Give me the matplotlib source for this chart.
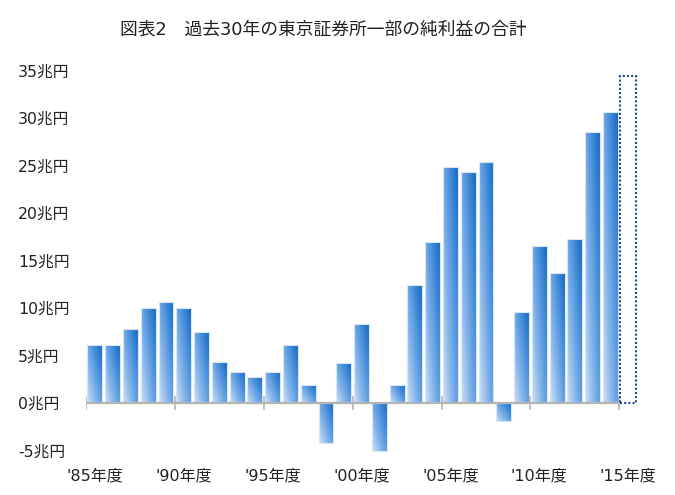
import numpy as np
import matplotlib
matplotlib.use("Agg")
import matplotlib.pyplot as plt
from matplotlib.patches import Rectangle
from matplotlib.colors import LinearSegmentedColormap

plt.rcParams['font.family'] = ['DejaVu Sans', 'Noto Sans CJK JP']

title = "図表2　過去30年の東京証券所一部の純利益の合計"
years = list(range(1985, 2015))
values = [6.1, 6.1, 7.8, 10.0, 10.6, 10.0, 7.5, 4.3, 3.3, 2.7,
          3.3, 6.1, 1.9, -4.2, 4.2, 8.3, -5.1, 1.9, 12.4, 17.0,
          24.8, 24.3, 25.4, -1.9, 9.6, 16.5, 13.7, 17.3, 28.5, 30.6]
forecast_year = 2015
forecast_value = 34.4
yticks = [-5, 0, 5, 10, 15, 20, 25, 30, 35]
ytick_labels = [f"{v}兆円" for v in yticks]
xtick_years = [1985, 1990, 1995, 2000, 2005, 2010, 2015]
xtick_labels = ["'85年度", "'90年度", "'95年度", "'00年度", "'05年度", "'10年度", "'15年度"]

W, H = 675, 495
fig = plt.figure(figsize=(W / 100, H / 100), dpi=100)
left_px, right_px, top_px, bottom_px = 86, 646, 61, 460
ax = fig.add_axes([left_px / W, (H - bottom_px) / H,
                   (right_px - left_px) / W, (bottom_px - top_px) / H])
ax.set_xlim(-0.5, 31.0)
ax.set_ylim(-6, 36)
for s in ax.spines.values():
    s.set_visible(False)

cmap = LinearSegmentedColormap.from_list(
    "bluegrad", ["#d0e1f8", "#86b6ea", "#4a90dc", "#1769c2"])
gx, gy = np.meshgrid(np.linspace(0, 1, 40), np.linspace(0, 1, 80))

bar_w = 0.84
n = len(years)
for i, v in enumerate(values):
    x0 = i - bar_w / 2
    y0, y1 = min(0, v), max(0, v)
    rect = Rectangle((x0, y0), bar_w, y1 - y0, facecolor="none",
                     edgecolor="#d6e7fa", linewidth=0.8, zorder=3)
    ax.add_patch(rect)
    t = 0.55 * gx + 0.45 * gy
    im = ax.imshow(t, cmap=cmap, vmin=0, vmax=1, origin="lower",
                   extent=(x0, x0 + bar_w, y0, y1), aspect="auto",
                   interpolation="bilinear", zorder=2)
    im.set_clip_path(rect)

# zero axis line with ticks every 5 years
ax.plot([-0.5, n - 0.5], [0, 0], color="#b4b4b4", lw=1.6, zorder=4,
        solid_capstyle="butt")
for k in range(0, n + 1, 5):
    ax.plot([k - 0.5, k - 0.5], [-0.58, 0.58], color="#b4b4b4", lw=1.2, zorder=4)

# forecast box (dotted)
fi = forecast_year - years[0]
fw = 0.93
ax.add_patch(Rectangle((fi - fw / 2, 0), fw, forecast_value, facecolor="none",
                       edgecolor="#1f4c86", lw=1.5, linestyle=(0, (1, 1)),
                       zorder=5))

ax.set_yticks(yticks)
ax.set_yticklabels(ytick_labels, fontsize=11.3, color="#222222")
for lab in ax.get_yticklabels():
    lab.set_horizontalalignment("left")
ax.tick_params(axis="y", length=0, pad=49)

ax.set_xticks([y - years[0] for y in xtick_years])
ax.set_xticklabels(xtick_labels, fontsize=11.5, color="#222222")
ax.tick_params(axis="x", length=0, pad=6)

fig.text(323 / W, 1 - 30 / H, title, ha="center", va="center",
         fontsize=12.8, color="#222222")

fig.savefig("out.png", dpi=100, facecolor="white")
